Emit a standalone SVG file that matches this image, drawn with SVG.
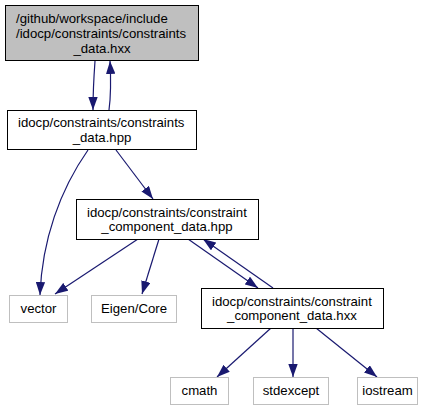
<svg xmlns="http://www.w3.org/2000/svg" width="434" height="409" viewBox="0 0 434 409">
<defs>
<style>
text{font-family:"Liberation Sans",Arial,sans-serif;font-size:13.2px;fill:#000}
.m{text-anchor:middle}
.n rect{fill:#fff;stroke:#000;stroke-width:1}
.g rect{fill:#fff;stroke:#bfbfbf;stroke-width:1}
#n1 rect{fill:#bfbfbf}
.e path{fill:none;stroke:#191970;stroke-width:1.2;marker-end:url(#ah)}
</style>
<marker id="ah" viewBox="0 0 13 9.4" refX="13" refY="4.7" markerWidth="13" markerHeight="9.4" markerUnits="userSpaceOnUse" orient="auto">
<path d="M0,0 L13,4.7 L0,9.4 z" fill="#191970"/>
</marker>
</defs>
<rect width="434" height="409" fill="#fff"/>
<g class="e" id="edges">
<path d="M95,61 C94,75 93,90 93,110"/>
<path d="M109,110 C111,95 111,80 110,61"/>
<path d="M88,150 C60,190 42,240 40,295"/>
<path d="M116,150 L153,199"/>
<path d="M138,239 L55,294"/>
<path d="M159,239 L142,294"/>
<path d="M188,239 L258,288"/>
<path d="M273,288 L203,239"/>
<path d="M271,328 L217,377"/>
<path d="M293,328 L293,377"/>
<path d="M316,328 L377,377"/>
</g>
<g class="n" id="n1">
<rect x="5.5" y="5.5" width="193" height="55"/>
<text x="16" y="22.5">/github/workspace/include</text>
<text x="16" y="37.5">/idocp/constraints/constraints</text>
<text class="m" x="102" y="52.5">_data.hxx</text>
</g>
<g class="n" id="n2">
<rect x="7.5" y="110.5" width="189" height="39"/>
<text x="18" y="127">idocp/constraints/constraints</text>
<text class="m" x="102" y="141.5">_data.hpp</text>
</g>
<g class="n" id="n3">
<rect x="76.5" y="199.5" width="182" height="40"/>
<text x="87" y="216.5">idocp/constraints/constraint</text>
<text class="m" x="167" y="231">_component_data.hpp</text>
</g>
<g class="n" id="n4">
<rect x="201.5" y="288.5" width="182" height="40"/>
<text x="212" y="305.5">idocp/constraints/constraint</text>
<text class="m" x="292" y="320">_component_data.hxx</text>
</g>
<g class="g" id="n5">
<rect x="9.5" y="295.5" width="58" height="27"/>
<text class="m" x="38.5" y="313">vector</text>
</g>
<g class="g" id="n6">
<rect x="91.5" y="295.5" width="85" height="27"/>
<text class="m" x="134" y="313">Eigen/Core</text>
</g>
<g class="g" id="n7">
<rect x="170.5" y="377.5" width="58" height="27"/>
<text class="m" x="199.5" y="395">cmath</text>
</g>
<g class="g" id="n8">
<rect x="253.5" y="377.5" width="75" height="27"/>
<text class="m" x="291" y="395">stdexcept</text>
</g>
<g class="g" id="n9">
<rect x="357.5" y="377.5" width="60" height="27"/>
<text class="m" x="387.5" y="395">iostream</text>
</g>
</svg>
